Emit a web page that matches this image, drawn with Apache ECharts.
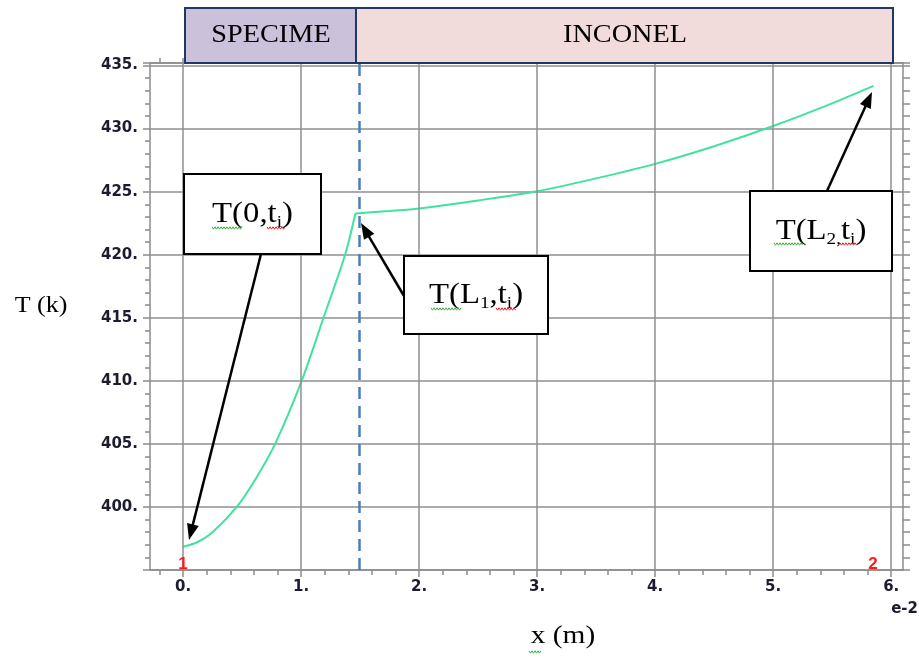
<!DOCTYPE html>
<html>
<head>
<meta charset="utf-8">
<script src="https://cdn.jsdelivr.net/npm/echarts@6/dist/echarts.min.js"></script>
<style>html,body{margin:0;padding:0;background:#fff}#c{width:919px;height:659px}</style>
</head>
<body>
<div id="c"></div>
<script>
// ---- data (x in units of 1e-2 m, T in K) ----
const specimenX = [0, 0.12, 0.25, 0.455, 0.62, 0.78, 1.005, 1.19, 1.373, 1.46];
const specimenT = [396.84, 397.2, 398.0, 400.0, 402.3, 405.0, 410.0, 415.0, 420.0, 423.27];
const inconelX = [1.46, 1.75, 2.0, 2.5, 3.0, 3.5, 4.0, 4.5, 5.0, 5.5, 5.85];
const inconelT = [423.27, 423.47, 423.67, 424.3, 425.03, 426.05, 427.2, 428.6, 430.2, 432.0, 433.38];
const interfaceX = 1.49;
const xMajor = [0, 1, 2, 3, 4, 5, 6];
const xTickLabels = ['0.', '1.', '2.', '3.', '4.', '5.', '6.'];
const yMajor = [400, 405, 410, 415, 420, 425, 430, 435];
const yTickLabels = ['400.', '405.', '410.', '415.', '420.', '425.', '430.', '435.'];
const xMin = -0.28, xMax = 6.1, yMin = 395, yMax = 435.2;

const xMinor = [];
for (let i = -1; i <= 30; i++) xMinor.push(Math.round(i * 2) / 10);

const axisColor = '#8c8c8c';
const gridColor = '#8f8f8f';
const curveColor = '#3fe39d';
const labelStyle = { fontFamily: 'DejaVu Sans', fontWeight: 'bold', fontSize: 15, color: '#1c1c30' };
const serif = 'Liberation Serif';

const chart = echarts.init(document.getElementById('c'), null, { renderer: 'canvas' });

const lineSt = { color: axisColor, width: 1.5 };

function xLabel(v) {
  const i = xMajor.findIndex(m => Math.abs(m - v) < 1e-6);
  return i >= 0 ? xTickLabels[i] : '';
}
function yLabel(v) {
  const i = yMajor.findIndex(m => Math.abs(m - v) < 1e-6);
  return i >= 0 ? yTickLabels[i] : '';
}

function arrow(x0, y0, x1, y1) {
  const dx = x1 - x0, dy = y1 - y0, L = Math.hypot(dx, dy);
  const ux = dx / L, uy = dy / L, hl = 16, hw = 6;
  const bx = x1 - ux * hl, by = y1 - uy * hl;
  return [
    { type: 'line', shape: { x1: x0, y1: y0, x2: bx + ux * 2, y2: by + uy * 2 }, style: { stroke: '#000', lineWidth: 2.5 }, z: 20 },
    { type: 'polygon', shape: { points: [[x1, y1], [bx - uy * hw, by + ux * hw], [bx + uy * hw, by - ux * hw]] }, style: { fill: '#000' }, z: 20 }
  ];
}

function wavy(x0, x1, y, color) {
  const pts = [];
  let k = 0;
  for (let x = x0; x <= x1; x += 1.5, k++) pts.push([x, y + (k % 2 ? 1.2 : -1.2)]);
  return { type: 'polyline', shape: { points: pts }, style: { stroke: color, lineWidth: 1, fill: null }, z: 23 };
}

function annot(cx, cy, w, h, rich) {
  return [
    { type: 'rect', shape: { x: cx - w / 2, y: cy - h / 2, width: w, height: h }, style: { fill: '#fff', stroke: '#000', lineWidth: 2 }, z: 21 },
    { type: 'text', x: cx, y: cy, scaleX: 1.13, z: 22,
      style: { text: rich, align: 'center', verticalAlign: 'middle',
        rich: {
          a: { fontFamily: serif, fontSize: 29, lineHeight: 34, fill: '#000' },
          s: { fontFamily: serif, fontSize: 17, lineHeight: 14, verticalAlign: 'bottom', fill: '#000' }
        } } }
  ];
}

const option = {
  animation: false,
  backgroundColor: '#fff',
  grid: { left: 150, top: 63, width: 753, height: 507, containLabel: false, outerBoundsMode: 'none' },
  xAxis: [
    { type: 'value', position: 'bottom', min: xMin, max: xMax,
      axisLine: { show: true, onZero: false, lineStyle: lineSt },
      axisTick: { show: true, customValues: xMajor, length: 7, lineStyle: lineSt },
      axisLabel: { show: true, customValues: xMajor, formatter: xLabel, margin: 10, ...labelStyle },
      splitLine: { show: false } },
    { type: 'value', position: 'bottom', min: xMin, max: xMax,
      axisLine: { show: false, onZero: false },
      axisTick: { show: true, customValues: xMinor, length: 5, lineStyle: lineSt },
      axisLabel: { show: false }, splitLine: { show: false } },
    { type: 'value', position: 'top', min: xMin, max: xMax,
      axisLine: { show: true, onZero: false, lineStyle: lineSt },
      axisTick: { show: true, customValues: xMinor, length: 5, lineStyle: lineSt },
      axisLabel: { show: false }, splitLine: { show: false } }
  ],
  yAxis: [
    { type: 'value', position: 'left', min: yMin, max: yMax, interval: 5,
      axisLine: { show: true, onZero: false, lineStyle: lineSt },
      axisTick: { show: true, length: 7, lineStyle: lineSt },
      minorTick: { show: true, splitNumber: 5, length: 5, lineStyle: lineSt },
      axisLabel: { formatter: yLabel, margin: 12, ...labelStyle },
      splitLine: { show: true, lineStyle: { color: gridColor, width: 1.5 } } },
    { type: 'value', position: 'right', min: yMin, max: yMax, interval: 5,
      axisLine: { show: true, onZero: false, lineStyle: lineSt },
      axisTick: { show: true, length: 7, lineStyle: lineSt },
      minorTick: { show: true, splitNumber: 5, length: 7, lineStyle: lineSt },
      axisLabel: { show: false }, splitLine: { show: false } }
  ],
  series: [
    { type: 'line', name: 'gridX', xAxisIndex: 0, yAxisIndex: 0, data: [[0, 396.84]], showSymbol: false, symbolSize: 0,
      lineStyle: { width: 0 }, silent: true, z: 1,
      markLine: { silent: true, symbol: ['none', 'none'], label: { show: false },
        lineStyle: { color: gridColor, width: 1.5, type: 'solid' },
        emphasis: { disabled: true },
        data: xMajor.map(v => ({ xAxis: v })) } },
    { type: 'line', name: 'Specimen', xAxisIndex: 0, yAxisIndex: 0,
      data: specimenX.map((x, i) => [x, specimenT[i]]),
      smooth: 0.3, showSymbol: false, lineStyle: { color: curveColor, width: 2 }, z: 4,
      markLine: { silent: true, symbol: ['none', 'none'], label: { show: false },
        lineStyle: { color: '#4a7ebb', width: 2.5, type: [12, 7] },
        emphasis: { disabled: true },
        data: [{ xAxis: interfaceX }] } },
    { type: 'line', name: 'Inconel', xAxisIndex: 0, yAxisIndex: 0,
      data: inconelX.map((x, i) => [x, inconelT[i]]),
      smooth: 0.3, showSymbol: false, lineStyle: { color: curveColor, width: 2 }, z: 4 }
  ],
  graphic: [
    // material boxes
    { type: 'rect', shape: { x: 185, y: 8, width: 171, height: 55 }, style: { fill: '#ccc1da', stroke: '#1f3864', lineWidth: 2 }, z: 10 },
    { type: 'rect', shape: { x: 356, y: 8, width: 537, height: 55 }, style: { fill: '#f2dcdb', stroke: '#1f3864', lineWidth: 2 }, z: 10 },
    { type: 'text', x: 271, y: 35, scaleX: 1.13, z: 11, style: { text: 'SPECIME', fontFamily: serif, fontSize: 25, fill: '#000', align: 'center', verticalAlign: 'middle' } },
    { type: 'text', x: 625, y: 35, scaleX: 1.13, z: 11, style: { text: 'INCONEL', fontFamily: serif, fontSize: 25, fill: '#000', align: 'center', verticalAlign: 'middle' } },
    // axis titles
    { type: 'text', x: 41, y: 306, scaleX: 1.13, z: 11, style: { text: 'T (k)', fontFamily: serif, fontSize: 23, fill: '#000', align: 'center', verticalAlign: 'middle' } },
    { type: 'text', x: 563, y: 636, scaleX: 1.13, z: 11, style: { text: 'x (m)', fontFamily: serif, fontSize: 26, fill: '#000', align: 'center', verticalAlign: 'middle' } },
    wavy(529, 541, 652, '#3cb043'),
    // exponent
    { type: 'text', x: 918, y: 609, z: 11, style: { text: 'e-2', fontFamily: 'DejaVu Sans', fontWeight: 'bold', fontSize: 15, fill: '#1c1c30', align: 'right', verticalAlign: 'middle' } },
    // node numbers
    { type: 'text', x: 183, y: 564, z: 11, style: { text: '1', fontFamily: 'Liberation Sans', fontWeight: 'bold', fontSize: 17, fill: '#ff1a1a', align: 'center', verticalAlign: 'middle' } },
    { type: 'text', x: 873, y: 564, z: 11, style: { text: '2', fontFamily: 'Liberation Sans', fontWeight: 'bold', fontSize: 17, fill: '#ff1a1a', align: 'center', verticalAlign: 'middle' } },
    // annotations
    ...annot(252.5, 214, 137, 80, '{a|T(0,t}{s|i}{a|)}'),
    ...annot(476, 295, 144, 78, '{a|T(L}{s|1}{a|,t}{s|i}{a|)}'),
    ...annot(821, 231, 142, 80, '{a|T(L}{s|2,}{a|t}{s|i}{a|)}'),
    wavy(212, 242, 228, '#3cb043'), wavy(267, 285, 228, '#e02020'),
    wavy(431, 462, 309, '#3cb043'), wavy(496, 516, 309, '#e02020'),
    wavy(774, 803, 244, '#3cb043'), wavy(840, 857, 244, '#e02020'),
    ...arrow(261, 254, 189, 540),
    ...arrow(404, 296, 361, 223),
    ...arrow(827, 191, 872, 92)
  ]
};
chart.setOption(option);
</script>
</body>
</html>
